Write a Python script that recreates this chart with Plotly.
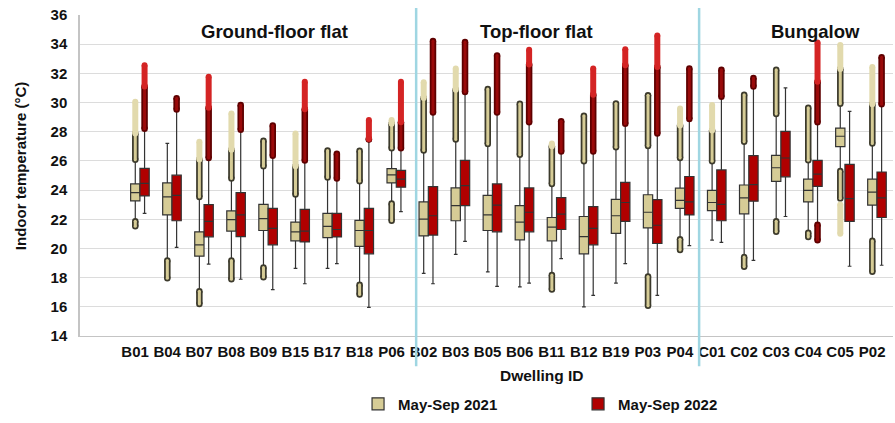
import plotly.graph_objects as go

# Dwellings in plotting order (ground-floor flats, top-floor flats, bungalows)
dwellings = ["B01", "B04", "B07", "B08", "B09", "B15", "B17", "B18", "P06",
             "B02", "B03", "B05", "B06", "B11", "B12", "B19", "P03", "P04",
             "C01", "C02", "C03", "C04", "C05", "P02"]

# May-Sep 2021 box statistics (deg C)
t21_low = [21.86, 19.18, 17.07, 19.18, 18.70, 18.63, 18.63, 17.51, 23.08,
           18.29, 19.59, 18.40, 17.36, 18.18, 16.00, 17.63, 18.07, 20.63,
           20.57, 19.41, 21.86, 21.08, 25.31, 20.52]
t21_q1 = [23.26, 22.30, 19.47, 21.19, 21.23, 20.52, 20.74, 20.14, 24.49,
          20.86, 21.90, 21.23, 20.59, 20.52, 19.63, 21.03, 21.41, 22.75,
          22.59, 22.37, 24.60, 23.19, 26.98, 22.97]
t21_med = [23.82, 23.53, 20.25, 21.97, 22.04, 21.14, 21.52, 21.23, 25.04,
           22.01, 22.93, 22.30, 21.81, 21.46, 20.81, 22.24, 22.48, 23.30,
           23.15, 23.46, 25.53, 23.98, 27.69, 23.86]
t21_q3 = [24.42, 24.49, 21.14, 22.57, 23.02, 21.81, 22.41, 21.92, 25.47,
          23.19, 24.15, 23.64, 22.93, 22.12, 22.19, 23.37, 23.68, 24.13,
          23.98, 24.35, 26.38, 24.75, 28.25, 24.75]
t21_high = [26.08, 27.20, 23.53, 24.80, 25.64, 23.70, 24.86, 24.60, 26.87,
            26.71, 27.47, 27.16, 26.42, 24.42, 25.98, 26.93, 27.02, 26.20,
            25.98, 27.31, 29.21, 26.04, 29.92, 27.20]
# outlier / extreme ranges beyond the whiskers (None = none recorded)
t21_out_top = [27.87, None, 26.10, 26.76, 27.38, 25.64, 26.71, 26.69, 28.54,
               30.32, 30.88, 30.92, 29.92, 27.00, 29.10, 29.94, 30.50, 28.43,
               28.09, 30.54, 32.24, 29.65, 32.30, 29.88]
t21_ext_top = [30.05, None, 27.31, 29.25, None, 27.87, None, None, 28.80,
               31.39, 32.33, None, None, 27.20, None, None, None, 29.59,
               29.83, None, None, None, 33.95, 32.44]
t21_out_bot = [21.52, 17.96, 16.20, 17.89, 18.03, None, None, 16.85, 21.90,
               None, None, None, None, 17.18, None, None, 16.07, 19.90,
               None, 18.74, 21.14, 20.79, 23.42, 18.40]
t21_ext_bot = [None] * 22 + [21.01, None]
t21_ext_bot_top = [None] * 22 + [23.02, None]

# May-Sep 2022 box statistics (deg C)
t22_low = [22.41, 20.08, 18.92, 17.89, 17.18, 17.58, 18.96, 15.96, 22.53,
           17.58, 20.48, 17.40, 17.63, 19.30, 16.78, 18.96, 16.78, 20.19,
           20.41, 19.18, 22.19, 21.63, 18.78, 18.85]
t22_q1 = [23.60, 21.90, 20.80, 20.81, 20.25, 20.45, 20.79, 19.63, 24.20,
          20.92, 22.93, 21.14, 21.14, 21.30, 20.25, 21.86, 20.34, 22.30,
          21.90, 23.24, 24.91, 24.26, 21.86, 22.12]
t22_med = [24.46, 23.64, 21.86, 22.30, 21.37, 21.19, 21.30, 21.23, 24.75,
           22.24, 24.31, 22.97, 22.48, 22.35, 21.37, 23.15, 21.59, 23.19,
           23.02, 24.38, 26.20, 25.09, 23.42, 23.46]
t22_q3 = [25.49, 25.02, 23.00, 23.82, 22.75, 22.68, 22.41, 22.75, 25.35,
          24.24, 26.04, 24.42, 24.15, 23.48, 22.86, 24.53, 23.35, 24.93,
          25.38, 26.36, 28.03, 26.04, 25.76, 25.24]
t22_high = [28.20, 29.53, 26.20, 28.14, 26.36, 26.02, 24.80, 27.47, 26.87,
            29.32, 30.72, 29.32, 28.65, 26.65, 26.65, 28.54, 27.87, 28.87,
            30.39, 31.10, 31.00, 28.65, 29.39, 29.88]
t22_out_top = [31.10, 30.30, 29.65, 29.83, 28.43, 29.54, 26.49, 27.50, 28.65,
               34.22, 34.15, 33.22, 32.60, 28.72, 30.54, 32.55, 32.44, 32.33,
               32.24, 31.68, None, 31.43, None, 33.10]
t22_ext_top = [32.55, None, 31.77, None, None, 31.43, None, 28.80, 31.43,
               None, None, None, 33.62, None, 32.33, 33.66, 34.60, None,
               None, None, None, 34.11, None, None]
t22_out_bot = [None] * 21 + [20.57, None, None]

group_titles = ["Ground-floor flat", "Top-floor flat", "Bungalow"]
group_title_x = [4.21, 12.36, 21.07]
group_breaks = [8.62, 17.45]
y_ticks = [14, 16, 18, 20, 22, 24, 26, 28, 30, 32, 34, 36]

TAN = "#d6cc96"
TAN_LIGHT = "#e2daad"
TAN_RING = "#3c3a2c"
RED = "#b00000"
RED_DARK = "#5e0000"
RED_BRIGHT = "#d42424"
EDGE = "#333333"
FONT = "Liberation Sans, Arial, sans-serif"

pos = list(range(len(dwellings)))
OFF = 0.145
BOXW = 0.29


def seg_xy(xs, starts, ends):
    """Vertical segments (start->end) at each x, skipping missing ones."""
    sx, sy = [], []
    for x, a, b in zip(xs, starts, ends):
        if a is None or b is None:
            continue
        sx += [x, x, None]
        sy += [a, b, None]
    return sx, sy


def add_column(fig, xs, starts, ends, color, width, inner=None, inner_w=0):
    sx, sy = seg_xy(xs, starts, ends)
    if not sx:
        return
    fig.add_trace(go.Scatter(x=sx, y=sy, mode="lines+markers",
                             line=dict(color=color, width=width),
                             marker=dict(color=color, size=width, line=dict(width=0)),
                             showlegend=False, hoverinfo="skip"))
    if inner:
        fig.add_trace(go.Scatter(x=sx, y=sy, mode="lines+markers",
                                 line=dict(color=inner, width=inner_w),
                                 marker=dict(color=inner, size=inner_w, line=dict(width=0)),
                                 showlegend=False, hoverinfo="skip"))


fig = go.Figure()

x21 = [p - OFF for p in pos]
x22 = [p + OFF for p in pos]

fig.add_trace(go.Box(x=x21, q1=t21_q1, median=t21_med, q3=t21_q3,
                     lowerfence=t21_low, upperfence=t21_high,
                     name="May-Sep 2021", fillcolor=TAN,
                     line=dict(color=EDGE, width=1.2), width=BOXW,
                     whiskerwidth=0.4, boxpoints=False))
fig.add_trace(go.Box(x=x22, q1=t22_q1, median=t22_med, q3=t22_q3,
                     lowerfence=t22_low, upperfence=t22_high,
                     name="May-Sep 2022", fillcolor=RED,
                     line=dict(color=EDGE, width=1.2), width=BOXW,
                     whiskerwidth=0.4, boxpoints=False))

# 2021 outliers (ringed circles) and extremes (plain light marks)
add_column(fig, x21, t21_high, t21_out_top, TAN_RING, 6.5, TAN, 3)
add_column(fig, x21, t21_out_top, t21_ext_top, TAN_LIGHT, 6)
add_column(fig, x21, t21_out_bot, t21_low, TAN_RING, 6.5, TAN, 3)
add_column(fig, x21, t21_ext_bot, t21_ext_bot_top, TAN_LIGHT, 6)

# 2022 outliers and extremes
add_column(fig, x22, t22_high, t22_out_top, RED_DARK, 6.5, "#9a0a0a", 3)
add_column(fig, x22, t22_out_top, t22_ext_top, RED_BRIGHT, 6)
add_column(fig, x22, t22_out_bot, t22_low, RED_DARK, 6.5, "#9a0a0a", 3)

annotations = []
for txt, gx in zip(group_titles, group_title_x):
    annotations.append(dict(text=txt, x=gx, xref="x", y=0.948, yref="paper",
                            showarrow=False, xanchor="center", yanchor="middle",
                            font=dict(family=FONT, size=18.5, color="#111111", weight="bold")))
annotations.append(dict(text="Indoor temperature (°C)", x=-0.0738, xref="paper",
                        y=0.529, yref="paper", textangle=-90, showarrow=False,
                        xanchor="center", yanchor="middle",
                        font=dict(family=FONT, size=15, color="#111111", weight="bold")))
annotations.append(dict(text="Dwelling ID", x=12.54, xref="x", y=-0.1246, yref="paper",
                        showarrow=False, xanchor="center", yanchor="middle",
                        font=dict(family=FONT, size=15.5, color="#111111", weight="bold")))

shapes = [dict(type="line", x0=b, x1=b, xref="x", y0=-0.094, y1=1.022, yref="paper",
               line=dict(color="#9fd6e2", width=2.5)) for b in group_breaks]

fig.update_layout(
    width=895, height=423,
    margin=dict(l=80, r=2, t=15, b=79),
    paper_bgcolor="white", plot_bgcolor="white",
    boxmode="overlay",
    font=dict(family=FONT, color="#111111"),
    showlegend=True,
    legend=dict(orientation="h", x=0.342, xanchor="left", y=-0.212, yanchor="middle",
                entrywidth=175, entrywidthmode="pixels",
                font=dict(family=FONT, size=15, color="#111111", weight="bold"),
                bgcolor="rgba(0,0,0,0)"),
    xaxis=dict(range=[-1.87, 23.5], tickmode="array",
               tickvals=[p - 0.15 for p in pos], ticktext=dwellings,
               showgrid=False, zeroline=False, showline=True,
               linecolor="#c4c4c4", linewidth=1.2, ticks="",
               ticklabelstandoff=2,
               tickfont=dict(family=FONT, size=15, color="#111111", weight="bold")),
    yaxis=dict(range=[14, 36], tickmode="array", tickvals=y_ticks,
               showgrid=True, gridcolor="#dcdcdc", gridwidth=1,
               zeroline=False, showline=True, linecolor="#c4c4c4", linewidth=1.5,
               ticks="", ticklabelstandoff=8,
               tickfont=dict(family=FONT, size=15, color="#111111", weight="bold")),
    annotations=annotations,
    shapes=shapes,
)

fig.write_html("out.html")
